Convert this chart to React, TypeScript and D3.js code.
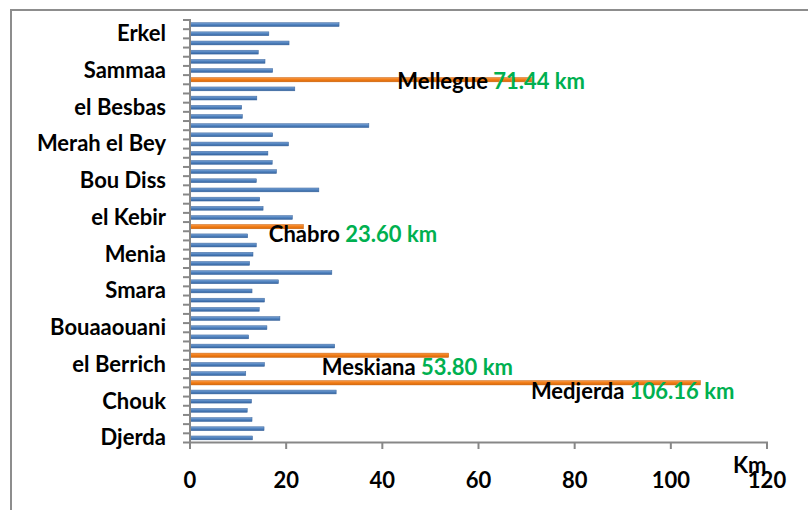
import React from "react";
import * as d3 from "d3";

// Categories from top to bottom (only some names are printed on the axis)
const categories: string[] = [
  "", "Erkel", "", "", "", "Sammaa", "Mellegue", "", "", "el Besbas", "", "",
  "", "Merah el Bey", "", "", "", "Bou Diss", "", "", "", "el Kebir", "Chabro", "",
  "", "Menia", "", "", "", "Smara", "", "", "", "Bouaaouani", "", "",
  "Meskiana", "el Berrich", "", "Medjerda", "", "Chouk", "", "", "", "Djerda",
];
const lengths: number[] = [
  31.0, 16.4, 20.6, 14.2, 15.6, 17.2, 71.44, 21.8, 13.9, 10.75, 10.9, 37.2,
  17.2, 20.5, 16.2, 17.1, 18.0, 13.8, 26.8, 14.5, 15.2, 21.3, 23.6, 12.0,
  13.8, 13.1, 12.4, 29.5, 18.4, 12.9, 15.5, 14.4, 18.7, 16.0, 12.2, 30.1,
  53.8, 15.5, 11.6, 106.16, 30.4, 12.8, 11.9, 12.9, 15.4, 13.0,
];
// every 4th category (from bottom) gets an axis label
const shownLabels: string[] = [
  "Erkel", "Sammaa", "el Besbas", "Merah el Bey", "Bou Diss", "el Kebir",
  "Menia", "Smara", "Bouaaouani", "el Berrich", "Chouk", "Djerda",
];
const highlighted: string[] = ["Mellegue", "Chabro", "Meskiana", "Medjerda"];
const xTicks: number[] = [0, 20, 40, 60, 80, 100, 120];
// annotation anchors: label start (km) and vertical shift (px) from bar
const annoStart: number[] = [43.1, 16.4, 27.4, 70.9];
const annoShift: number[] = [9.6, 15.1, 20.0, 15.8];

const W = 808;
const H = 510;
const FONT = "Lato, 'Open Sans', sans-serif";
const FS = 22;

export default function App() {
  const x = d3.scaleLinear().domain([0, 120]).range([190, 767]);
  const y = d3
    .scaleBand<number>()
    .domain(d3.range(categories.length))
    .range([20, 442.5])
    .paddingInner(0.58)
    .paddingOuter(0.29);
  const bw = y.bandwidth();
  const gap = (y.step() - bw) / 2;
  const boundaries = d3.range(categories.length + 1).map((i) =>
    i < categories.length ? (y(i) as number) - gap : (y(i - 1) as number) + bw + gap
  );
  const axisColor = "#878787";

  return (
    <svg
      width={W}
      height={H}
      style={{ position: "fixed", left: 0, top: 0, display: "block", background: "#fff" }}
    >
      <defs>
        <linearGradient id="gb" x1="0" y1="0" x2="0" y2="1">
          <stop offset="0" stopColor="#7aa3d6" />
          <stop offset="0.5" stopColor="#4f81bd" />
          <stop offset="1" stopColor="#35649f" />
        </linearGradient>
        <linearGradient id="go" x1="0" y1="0" x2="0" y2="1">
          <stop offset="0" stopColor="#f99a4a" />
          <stop offset="0.5" stopColor="#f07b14" />
          <stop offset="1" stopColor="#d8680a" />
        </linearGradient>
      </defs>
      <rect x={0} y={0} width={W} height={H} fill="#fff" />
      {/* chart frame */}
      <rect x={11} y={10} width={W + 20} height={H + 20} fill="none" stroke="#8d8d8d" strokeWidth={2} />

      {/* bars */}
      {lengths.map((v, i) => {
        const hi = highlighted.includes(categories[i]);
        return (
          <rect
            key={i}
            x={x(0)}
            y={(y(i) as number) + (hi ? -0.2 : 0)}
            width={x(v) - x(0)}
            height={hi ? bw + 0.4 : bw}
            fill={hi ? "url(#go)" : "url(#gb)"}
            stroke={hi ? "#c85f08" : "#3a659c"}
            strokeWidth={0.5}
          />
        );
      })}

      {/* y axis */}
      <line x1={x(0)} x2={x(0)} y1={boundaries[0] - 1} y2={boundaries[categories.length]} stroke={axisColor} strokeWidth={2} />
      {boundaries.map((b, i) => (
        <line key={i} x1={183} x2={x(0)} y1={b} y2={b} stroke={axisColor} strokeWidth={2} />
      ))}
      {categories.map((c, i) =>
        shownLabels.includes(c) ? (
          <text
            key={i}
            x={166}
            y={(y(i) as number) + bw / 2 + 7.5}
            textAnchor="end"
            fontFamily={FONT}
            fontWeight="bold"
            fontSize={FS}
            fill="#000"
          >
            {c}
          </text>
        ) : null
      )}

      {/* x axis */}
      <line x1={x(0) - 1} x2={x(120) + 1} y1={442.5} y2={442.5} stroke={axisColor} strokeWidth={2} />
      {xTicks.map((t) => (
        <g key={t}>
          <line x1={x(t)} x2={x(t)} y1={442.5} y2={449} stroke={axisColor} strokeWidth={2} />
          <text x={x(t)} y={488} textAnchor="middle" fontFamily={FONT} fontWeight="bold" fontSize={FS} fill="#000">
            {t}
          </text>
        </g>
      ))}
      <text x={733} y={473} fontFamily={FONT} fontWeight="bold" fontSize={FS} fill="#000">
        Km
      </text>

      {/* annotations */}
      {highlighted.map((name, k) => {
        const i = categories.indexOf(name);
        const v = lengths[i];
        return (
          <text
            key={name}
            x={x(annoStart[k])}
            y={(y(i) as number) + bw / 2 + annoShift[k]}
            fontFamily={FONT}
            fontWeight="bold"
            fontSize={FS}
          >
            <tspan fill="#000">{name} </tspan>
            <tspan fill="#00b050">{v.toFixed(2)} km</tspan>
          </text>
        );
      })}
    </svg>
  );
}
